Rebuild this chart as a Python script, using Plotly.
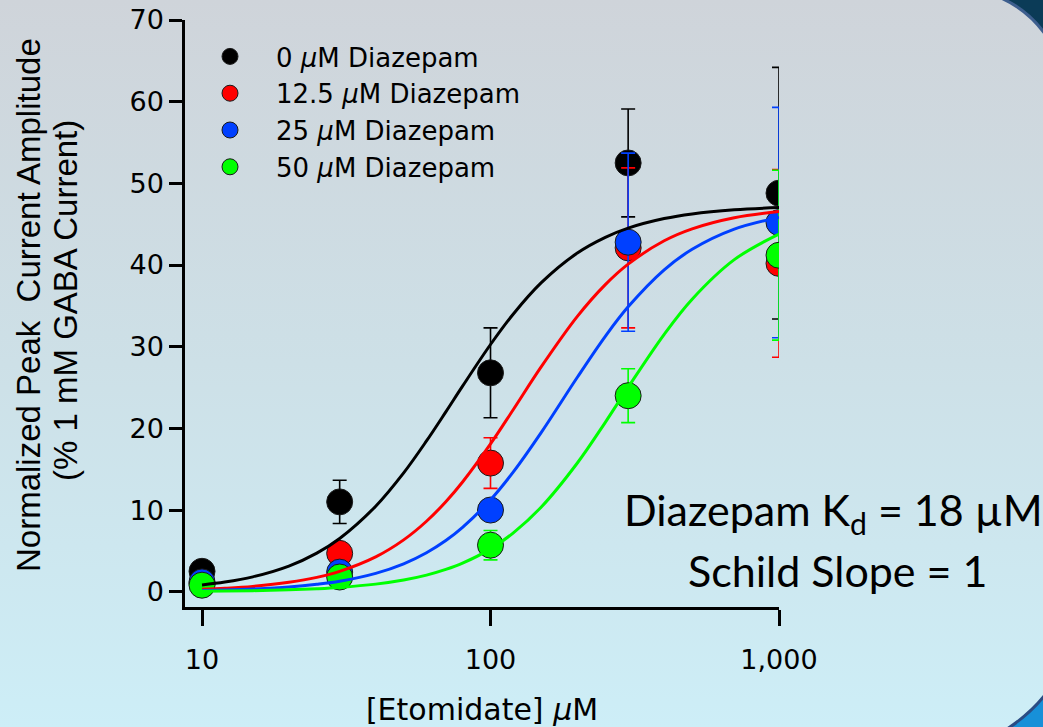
import base64
import plotly.graph_objects as go

# ---------------- data ----------------
conc = [10, 30, 100, 300, 1000]  # [Etomidate] uM

series_names = ["0 <i>μ</i>M Diazepam", "12.5 <i>μ</i>M Diazepam",
                "25 <i>μ</i>M Diazepam", "50 <i>μ</i>M Diazepam"]
series_colors = ["#000000", "#ff0000", "#0040ff", "#00ff00"]

y_0 = [2.5, 11.0, 26.8, 52.5, 48.8]
e_0 = [0.8, 2.65, 5.5, 6.6, 15.4]
y_125 = [1.0, 4.7, 15.75, 42.1, 40.2]
e_125 = [0.5, 0.8, 3.1, 9.8, 11.5]
y_25 = [1.2, 2.4, 10.0, 42.8, 45.2]
e_25 = [0.5, 0.8, 0.9, 10.9, 14.1]
y_50 = [0.8, 1.8, 5.7, 24.0, 41.2]
e_50 = [0.5, 0.6, 1.8, 3.3, 10.4]

# fitted curves
curve_x = [10, 12, 15, 20, 25, 30, 40, 50, 60, 70, 80, 100, 120, 150, 200,
           250, 300, 400, 500, 700, 1000]
curve_0 = [0.83, 1.18, 1.82, 3.14, 4.73, 6.52, 10.47, 14.55, 18.46, 22.02, 25.17,
           30.27, 34.01, 37.84, 41.47, 43.39, 44.52, 45.69, 46.26, 46.76, 47.04]
curve_125 = [0.29, 0.42, 0.65, 1.15, 1.76, 2.50, 4.27, 6.35, 8.63, 11.02, 13.44,
             18.10, 22.31, 27.55, 33.71, 37.60, 40.11, 42.97, 44.43, 45.79, 46.55]
curve_25 = [0.15, 0.21, 0.33, 0.58, 0.91, 1.29, 2.25, 3.42, 4.78, 6.27, 7.88,
            11.25, 14.67, 19.51, 26.26, 31.27, 34.88, 39.41, 41.93, 44.40, 45.83]
curve_50 = [0.06, 0.09, 0.13, 0.24, 0.37, 0.53, 0.93, 1.43, 2.03, 2.73, 3.50,
            5.25, 7.21, 10.37, 15.76, 20.74, 25.03, 31.52, 35.82, 40.66, 43.79]

x_tickvals = [10, 100, 1000]
x_ticktext = ["10", "100", "1,000"]
y_tickvals = [0, 10, 20, 30, 40, 50, 60, 70]

points = [y_0, y_125, y_25, y_50]
errors = [e_0, e_125, e_25, e_50]
curves = [curve_0, curve_125, curve_25, curve_50]

# ---------------- figure ----------------
W, H = 1043, 727
ML, MR, MT, MB = 185, 264, 20, 120
PW, PH = W - ML - MR, H - MT - MB

fig = go.Figure()

for i in range(4):
    fig.add_trace(go.Scatter(
        x=conc, y=points[i], mode="markers", name=series_names[i],
        legendgroup=str(i),
        marker=dict(size=26, color=series_colors[i],
                    line=dict(color="#1a1a1a", width=1)),
        error_y=dict(type="data", array=errors[i], visible=True,
                     color=series_colors[i], thickness=1.6, width=7),
    ))

for i in range(4):
    fig.add_trace(go.Scatter(
        x=curve_x, y=curves[i], mode="lines", showlegend=False,
        line=dict(color=series_colors[i], width=3, shape="spline", smoothing=1.0),
        hoverinfo="skip",
    ))

svg = f"""<svg xmlns='http://www.w3.org/2000/svg' width='{W}' height='{H}' viewBox='0 0 {W} {H}' preserveAspectRatio='none'>
<defs><linearGradient id='g' x1='0' y1='0' x2='0' y2='1'>
<stop offset='0' stop-color='#cfd4da'/><stop offset='0.5' stop-color='#cde0e7'/><stop offset='1' stop-color='#cdeef7'/>
</linearGradient></defs>
<rect width='{W}' height='{H}' fill='url(#g)'/>
<path d='M1001,-2 Q1028,10 1045,34 L1045,-2 Z' fill='#0b3b57' stroke='#3d5e8e' stroke-width='3'/>
<path d='M1007,729 Q1030,714 1045,695 L1045,729 Z' fill='#1790d8' stroke='#2a4c84' stroke-width='3'/>
</svg>"""
src = "data:image/svg+xml;base64," + base64.b64encode(svg.encode()).decode()

fig.add_layout_image(dict(
    source=src, xref="paper", yref="paper",
    x=-ML / PW, y=1 + MT / PH, sizex=W / PW, sizey=H / PH,
    xanchor="left", yanchor="top", sizing="stretch", layer="below",
))

tick_font = dict(family="DejaVu Sans", size=27, color="#000000")

fig.update_xaxes(
    type="log", range=[0.941, 3.0],
    tickvals=x_tickvals, ticktext=x_ticktext, tickfont=tick_font,
    ticks="outside", ticklen=16, tickwidth=2.5, tickcolor="#000",
    showline=True, linecolor="#000", linewidth=2.5,
    showgrid=False, zeroline=False, ticklabelstandoff=11, automargin=False,
    title=dict(text="[Etomidate] <i>μ</i>M",
               font=dict(family="DejaVu Sans", size=30, color="#000"),
               standoff=30),
)
fig.update_yaxes(
    range=[-1.87, 70],
    tickvals=y_tickvals, tickfont=tick_font,
    ticks="outside", ticklen=13, tickwidth=2.5, tickcolor="#000",
    showline=True, linecolor="#000", linewidth=2.5,
    showgrid=False, zeroline=False, ticklabelstandoff=0, automargin=False,
)

ytitle_font = dict(family="Liberation Sans", size=33, color="#000")
fig.add_annotation(text="Normalized Peak  Current Amplitude", textangle=-90,
                   xref="paper", yref="paper", x=(28 - ML) / PW, y=(H - MB - 305) / PH,
                   xanchor="center", yanchor="middle", showarrow=False, font=ytitle_font)
fig.add_annotation(text="(% 1 mM GABA Current)", textangle=-90,
                   xref="paper", yref="paper", x=(65 - ML) / PW, y=(H - MB - 301) / PH,
                   xanchor="center", yanchor="middle", showarrow=False, font=ytitle_font)

kd_font = dict(family="Lato", size=43, color="#000")
fig.add_annotation(text="Diazepam K<sub>d</sub> = 18 µM",
                   xref="paper", yref="paper", x=(833 - ML) / PW, y=(H - MB - 512) / PH,
                   xanchor="center", yanchor="middle", showarrow=False, font=kd_font)
fig.add_annotation(text="Schild Slope = 1",
                   xref="paper", yref="paper", x=(837 - ML) / PW, y=(H - MB - 570) / PH,
                   xanchor="center", yanchor="middle", showarrow=False, font=kd_font)

fig.update_layout(
    width=W, height=H,
    margin=dict(l=ML, r=MR, t=MT, b=MB, pad=0, autoexpand=False),
    paper_bgcolor="#cde0e7", plot_bgcolor="rgba(0,0,0,0)",
    showlegend=True,
    legend=dict(x=(184 - ML) / PW, y=(H - MB - 33) / PH, xanchor="left", yanchor="top",
                bgcolor="rgba(0,0,0,0)", borderwidth=0,
                font=dict(family="DejaVu Sans", size=26, color="#000"),
                itemsizing="trace", tracegroupgap=0, itemwidth=82),
)

fig.write_html("out.html", config={"displayModeBar": False},
               post_script="document.body.style.margin='0px';document.body.style.overflow='hidden';")
